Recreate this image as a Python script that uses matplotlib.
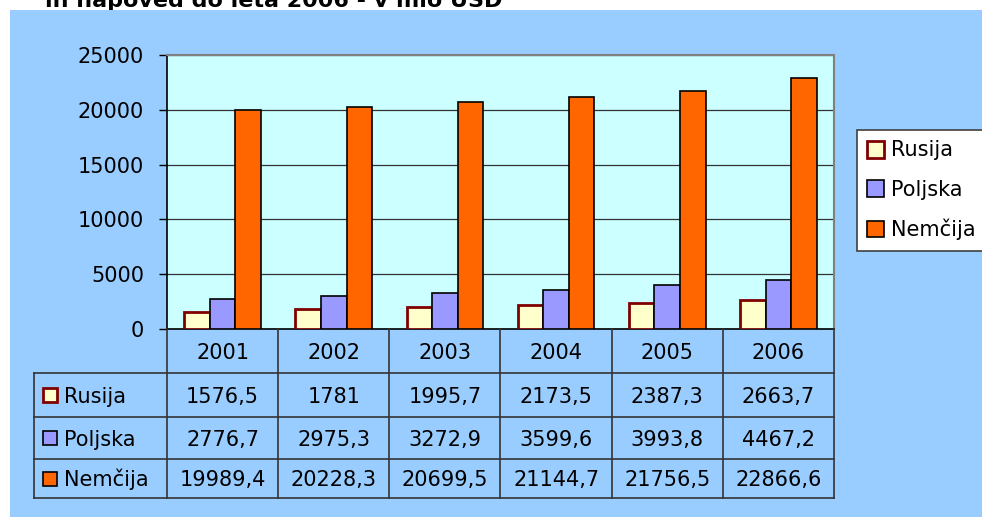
import numpy as np
import matplotlib.pyplot as plt
from matplotlib.lines import Line2D
from matplotlib.patches import Rectangle

# DATA ==================================================================================

years = ["2001", "2002", "2003", "2004", "2005", "2006"]
rusija = [1576.5, 1781, 1995.7, 2173.5, 2387.3, 2663.7]
poljska = [2776.7, 2975.3, 3272.9, 3599.6, 3993.8, 4467.2]
nemcija = [19989.4, 20228.3, 20699.5, 21144.7, 21756.5, 22866.6]
series_names = ["Rusija", "Poljska", "Nemčija"]
y_ticks = [0, 5000, 10000, 15000, 20000, 25000]
title = "in napoved do leta 2006 - v mio USD"

# STYLE =================================================================================

W, H = 982, 517
fills = ["#FFFFCC", "#9999FF", "#FF6600"]
edges = ["#800000", "black", "black"]
edge_w = [2.0, 1.2, 1.2]
line_col = "#333333"
fs = 15

plt.rcParams["font.family"] = ["DejaVu Sans"]


def fx(px):
    return px / W


def fy(py):
    return 1 - py / H


def fmt(v):
    return f"{v:g}".replace(".", ",")


fig = plt.figure(figsize=(W / 100, H / 100), dpi=100)
fig.patch.set_facecolor("white")

# title strip (its top is cut off in the original)
fig.text(fx(45), fy(7), title, fontsize=16, fontweight="bold",
         va="baseline", ha="left", zorder=-2)
fig.add_artist(Rectangle((fx(10), 0), 1 - fx(10), fy(10), transform=fig.transFigure,
                         facecolor="#99CCFF", edgecolor="none", zorder=-1))

# CHART =================================================================================

ax = fig.add_axes([fx(167), fy(329), fx(834) - fx(167), (329 - 55) / H])
ax.set_facecolor("#CCFFFF")

x = np.arange(len(years))
w = 0.23
for i, (vals, name) in enumerate(zip([rusija, poljska, nemcija], series_names)):
    ax.bar(x + (i - 1) * w, vals, w, color=fills[i], edgecolor=edges[i],
           linewidth=edge_w[i], label=name, zorder=3)

ax.set_xlim(-0.5, len(years) - 0.5)
ax.set_ylim(y_ticks[0], y_ticks[-1])
ax.set_yticks(y_ticks)
ax.set_xticks([])
ax.yaxis.grid(True, color="#333333", linewidth=0.9)
ax.set_axisbelow(True)
for s in ["top", "right"]:
    ax.spines[s].set_color("#808080")
    ax.spines[s].set_linewidth(1.5)
for s in ["left", "bottom"]:
    ax.spines[s].set_color("black")
    ax.spines[s].set_linewidth(1.2)
ax.tick_params(axis="y", length=5.8, width=1, pad=10.8, labelsize=fs, direction="out")

leg = ax.legend(loc="upper left", bbox_to_anchor=(fx(857), fy(130)),
                bbox_transform=fig.transFigure, fontsize=fs, frameon=True,
                fancybox=False, edgecolor="#404040", facecolor="white", framealpha=1,
                borderpad=0.5, labelspacing=0.92, handlelength=0.8, handleheight=0.85,
                handletextpad=0.35, borderaxespad=0)
leg.get_frame().set_linewidth(1.2)

# DATA TABLE ============================================================================

col_edges = np.linspace(167, 834, len(years) + 1)
col_mid = (col_edges[:-1] + col_edges[1:]) / 2
row_edges = [329, 373, 417, 459, 498]
table_left = 34


def hline(y, x0, x1):
    fig.add_artist(Line2D([fx(x0), fx(x1)], [fy(y), fy(y)], color=line_col, lw=1.2))


def vline(xp, y0, y1):
    fig.add_artist(Line2D([fx(xp), fx(xp)], [fy(y0), fy(y1)], color=line_col, lw=1.2))


for xe in col_edges:
    vline(xe, row_edges[0], row_edges[-1])
vline(table_left, row_edges[1], row_edges[-1])
for ye in row_edges[1:]:
    hline(ye, table_left, col_edges[-1])

year_base = (row_edges[0] + row_edges[1]) / 2 + 8
for cx, yr in zip(col_mid, years):
    fig.text(fx(cx), fy(year_base), yr, fontsize=fs, ha="center", va="baseline")

for r, (vals, name) in enumerate(zip([rusija, poljska, nemcija], series_names)):
    mid = (row_edges[r + 1] + row_edges[r + 2]) / 2
    fig.add_artist(Line2D([fx(50)], [fy(mid)], marker="s", markersize=10.5,
                          markerfacecolor=fills[r], markeredgecolor=edges[r],
                          markeredgewidth=edge_w[r], linestyle="none"))
    fig.text(fx(64), fy(mid + 8), name, fontsize=fs, ha="left", va="baseline")
    for cx, v in zip(col_mid, vals):
        fig.text(fx(cx), fy(mid + 8), fmt(v), fontsize=fs, ha="center", va="baseline")

fig.savefig("out.png", dpi=100)
